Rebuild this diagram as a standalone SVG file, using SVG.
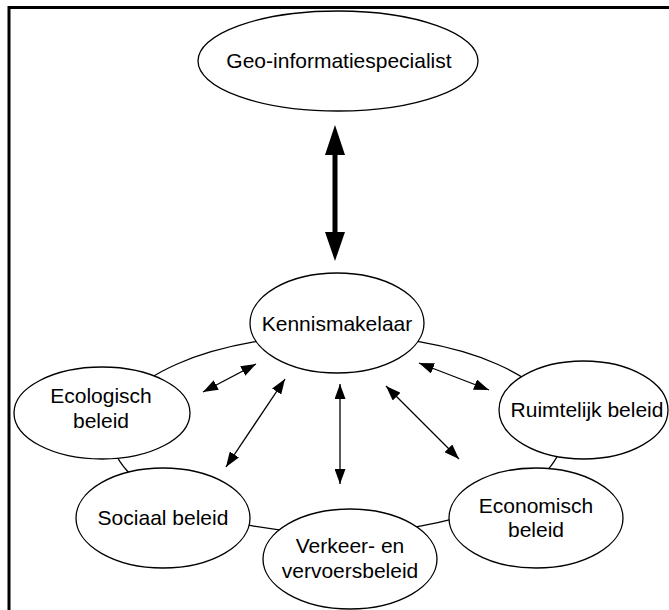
<svg xmlns="http://www.w3.org/2000/svg" width="669" height="610" viewBox="0 0 669 610">
<defs>
<marker id="ah" viewBox="0 0 15 11" refX="15" refY="5.5" markerWidth="15" markerHeight="11" markerUnits="userSpaceOnUse" orient="auto-start-reverse">
<path d="M0,0 L15,5.5 L0,11 Z" fill="#000"/>
</marker>
</defs>
<style>
.n ellipse{fill:#fff;stroke:#000;stroke-width:1.3}
.t{font-family:"Liberation Sans",Arial,sans-serif;font-size:21px;fill:#000;text-anchor:middle}
.c line{stroke:#000;stroke-width:1.3}
</style>
<rect width="669" height="610" fill="#fff"/>
<path d="M9,610 V7.5 H669" fill="none" stroke="#000" stroke-width="3"/>
<ellipse cx="337" cy="434" rx="226" ry="99" fill="none" stroke="#000" stroke-width="1.3"/>
<g class="c">
<line x1="335" y1="153" x2="335" y2="234" style="stroke-width:5"/>
<path d="M335,125 L345,155 L325,155 Z" fill="#000"/>
<path d="M335,261 L345,232 L325,232 Z" fill="#000"/>
<line x1="203" y1="392" x2="256" y2="364" marker-start="url(#ah)" marker-end="url(#ah)"/>
<line x1="226" y1="467" x2="285" y2="379" marker-start="url(#ah)" marker-end="url(#ah)"/>
<line x1="340" y1="384" x2="340" y2="484" marker-start="url(#ah)" marker-end="url(#ah)"/>
<line x1="386" y1="386" x2="459" y2="459" marker-start="url(#ah)" marker-end="url(#ah)"/>
<line x1="419" y1="363" x2="489" y2="390" marker-start="url(#ah)" marker-end="url(#ah)"/>
</g>
<g id="geo" class="n"><ellipse cx="338" cy="61" rx="140" ry="50"/><text class="t" x="339" y="68">Geo-informatiespecialist</text></g>
<g id="kennis" class="n"><ellipse cx="337" cy="323" rx="87" ry="50"/><text class="t" x="337" y="331">Kennismakelaar</text></g>
<g id="eco" class="n"><ellipse cx="102" cy="413" rx="88" ry="46"/><text class="t" x="101" y="403">Ecologisch</text><text class="t" x="101" y="428">beleid</text></g>
<g id="sociaal" class="n"><ellipse cx="163" cy="518" rx="87" ry="50"/><text class="t" x="163" y="525">Sociaal beleid</text></g>
<g id="verkeer" class="n"><ellipse cx="350" cy="559" rx="87" ry="50"/><text class="t" x="350" y="553">Verkeer- en</text><text class="t" x="350" y="578">vervoersbeleid</text></g>
<g id="economisch" class="n"><ellipse cx="536" cy="518" rx="87" ry="50"/><text class="t" x="536" y="513">Economisch</text><text class="t" x="536" y="537">beleid</text></g>
<g id="ruimtelijk" class="n"><ellipse cx="583.5" cy="410" rx="84.5" ry="49"/><text class="t" x="587" y="417">Ruimtelijk beleid</text></g>
</svg>
